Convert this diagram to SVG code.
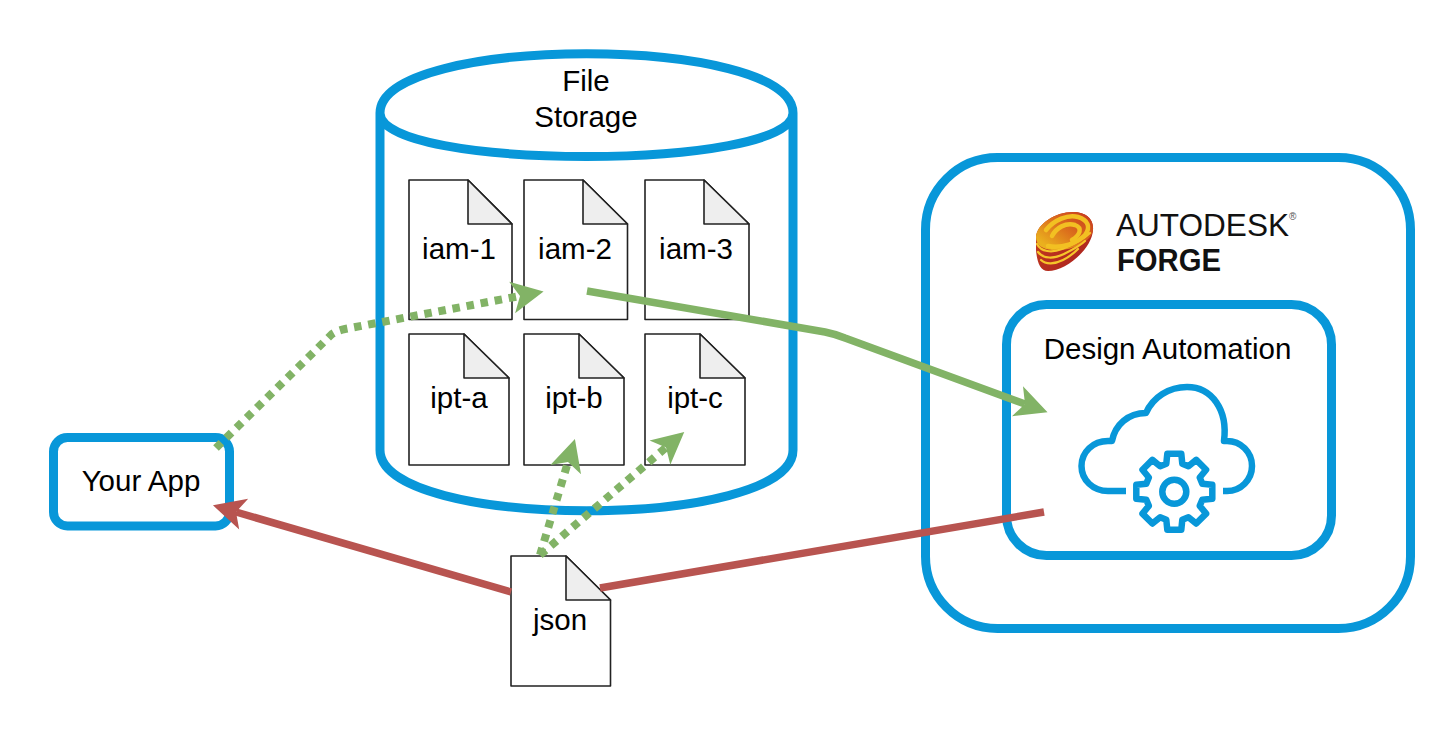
<svg xmlns="http://www.w3.org/2000/svg" width="1456" height="739" viewBox="0 0 1456 739">
<style>
.blue{fill:none;stroke:#0897d9;stroke-width:9}
.icon{fill:none;stroke:#0897d9;stroke-width:6.5;stroke-linejoin:round}
.page{fill:#fff;stroke:#222;stroke-width:1.6;stroke-linejoin:round}
.fold{fill:#eee;stroke:#222;stroke-width:1.6;stroke-linejoin:round}
text{font-family:"Liberation Sans",Arial,sans-serif;font-size:29.500px;fill:#000;text-anchor:middle}
.ln{fill:none;stroke-width:7.500}
.g{stroke:#82b366}
.r{stroke:#b85450}
.dot{stroke-width:8;stroke-dasharray:7.500 6.800}
.ys{fill:none;stroke:#f5c52a;stroke-width:2.200;stroke-linecap:round}
.ysw{fill:none;stroke:#f2c022;stroke-width:4.500;stroke-linecap:round}
</style>
<defs>
<marker id="ag" markerUnits="userSpaceOnUse" markerWidth="36" markerHeight="36" viewBox="-2 -18 36 36" refX="8" refY="0" orient="auto" overflow="visible"><path d="M0 -16L32 0L0 16L8 0Z" fill="#82b366"/></marker>
<marker id="ar" markerUnits="userSpaceOnUse" markerWidth="36" markerHeight="36" viewBox="-2 -18 36 36" refX="8" refY="0" orient="auto" overflow="visible"><path d="M0 -16L32 0L0 16L8 0Z" fill="#b85450"/></marker>
<linearGradient id="lg" x1="0.1" y1="0.8" x2="0.9" y2="0.1"><stop offset="0" stop-color="#eab01e"/><stop offset="0.5" stop-color="#dc701c"/><stop offset="1" stop-color="#c9401f"/></linearGradient>
<linearGradient id="lb" x1="0" y1="0" x2="1" y2="1"><stop offset="0" stop-color="#c9401f"/><stop offset="1" stop-color="#a8201f"/></linearGradient>
</defs>
<rect width="1456" height="739" fill="#fff"/>

<g id="file-storage">
<path class="blue" d="M380 113C380 34 793 34 793 113C793 171 380 171 380 113V450C380 531 793 531 793 450V113"/>
<text x="586" y="91">File</text>
<text x="586" y="127">Storage</text>
</g>

<g id="iam-1"><path class="page" d="M409 180H468L512 224V319.500H409Z"/><path class="fold" d="M468 180V224H512Z"/><text x="459" y="259">iam-1</text></g>
<g id="iam-2"><path class="page" d="M524 180H583L627.500 224V319.500H524Z"/><path class="fold" d="M583 180V224H627.500Z"/><text x="575" y="259">iam-2</text></g>
<g id="iam-3"><path class="page" d="M645 180H704L749 224V319.500H645Z"/><path class="fold" d="M704 180V224H749Z"/><text x="696" y="259">iam-3</text></g>
<g id="ipt-a"><path class="page" d="M409 334H464L509 378V465H409Z"/><path class="fold" d="M464 334V378H509Z"/><text x="459" y="408">ipt-a</text></g>
<g id="ipt-b"><path class="page" d="M524 334H579L624 378V465H524Z"/><path class="fold" d="M579 334V378H624Z"/><text x="574" y="408">ipt-b</text></g>
<g id="ipt-c"><path class="page" d="M645 334H700L745 378V465H645Z"/><path class="fold" d="M700 334V378H745Z"/><text x="695" y="408">ipt-c</text></g>

<g id="your-app"><rect class="blue" x="53.500" y="437.500" width="176" height="88.500" rx="14"/><text x="141" y="491">Your App</text></g>

<g id="forge">
<rect class="blue" x="925.500" y="157.500" width="485" height="471" rx="72"/>
<g id="forge-logo">
<path d="M1036 237C1037 224 1055 212 1073 212C1086 212 1094 219 1093 230C1092 249 1066 271 1048 271C1040 271 1037 262 1036 250Z" fill="url(#lb)"/>
<path d="M1036 237C1037 224 1055 212 1073 212C1086 212 1094 219 1093 230C1092 242 1070 252 1052 250C1042 249 1036 245 1036 237Z" fill="url(#lg)"/>
<path class="ys" d="M1037 244C1041 252 1052 253 1062 249C1072 245 1084 239 1090 233"/>
<path class="ys" d="M1038 252C1043 259 1054 259 1064 254C1072 250 1080 246 1085 241"/>
<path class="ys" d="M1041 260C1046 265 1055 264 1063 260C1069 257 1074 253 1078 249"/>
<path class="ysw" d="M1046 230C1054 220 1068 214 1078 217C1088 220 1091 227 1085 235C1077 243 1062 249 1048 246"/>
<path class="ysw" d="M1052 236C1056 228 1066 222 1075 225C1083 228 1080 235 1072 240"/>
<text x="1116" y="236" textLength="173" lengthAdjust="spacingAndGlyphs" style="font-size:31px;text-anchor:start;fill:#111">AUTODESK</text>
<text x="1289" y="220" style="font-size:10px;text-anchor:start;fill:#555">®</text>
<text x="1117" y="271" textLength="104" lengthAdjust="spacingAndGlyphs" style="font-size:31px;font-weight:700;text-anchor:start;fill:#111">FORGE</text>
</g>
</g>

<g id="design-automation">
<rect class="blue" x="1006.500" y="304.500" width="325" height="251" rx="40"/>
<text x="1167.500" y="359">Design Automation</text>
<path class="icon" d="M1223 491H1227A25 25 0 0 0 1227 441H1224C1228 410 1212 387 1187 387C1169 387 1153 397 1146 413C1128 413 1115 425 1112 441H1108C1093 441 1081.500 452 1081.500 466C1081.500 480 1093 491 1108 491H1126"/>
<g transform="translate(1174.300 491.700)">
<path class="icon" d="M-8 -28L-7 -38H7L8 -28L14.140 -25.460L21.920 -31.820L31.820 -21.920L25.460 -14.140L28 -8L38 -7V7L28 8L25.460 14.140L31.820 21.920L21.920 31.820L14.140 25.460L8 28L7 38H-7L-8 28L-14.140 25.460L-21.920 31.820L-31.820 21.920L-25.460 14.140L-28 8L-38 7V-7L-28 -8L-25.460 -14.140L-31.820 -21.920L-21.920 -31.820L-14.140 -25.460Z"/>
<circle class="icon" cx="0" cy="0" r="12"/>
</g>
</g>

<g id="json"><path class="page" d="M511 556H566L610.500 600V686H511Z"/><path class="fold" d="M566 556V600H610.500Z"/><text x="560" y="630">json</text></g>

<g id="connectors">
<path class="ln g dot" d="M216 448L332 334Q336 331 345 329L520 296" marker-end="url(#ag)"/>
<path class="ln g" d="M587 291L825 332Q835 334 845 338L1025 404" marker-end="url(#ag)"/>
<path class="ln r" d="M1044 512L600 588"/>
<path class="ln r" d="M511 592L236 512" marker-end="url(#ar)"/>
<path class="ln g dot" d="M540 555L568 462" marker-end="url(#ag)"/>
<path class="ln g dot" d="M540 555L666 447.500" marker-end="url(#ag)"/>
</g>
</svg>
